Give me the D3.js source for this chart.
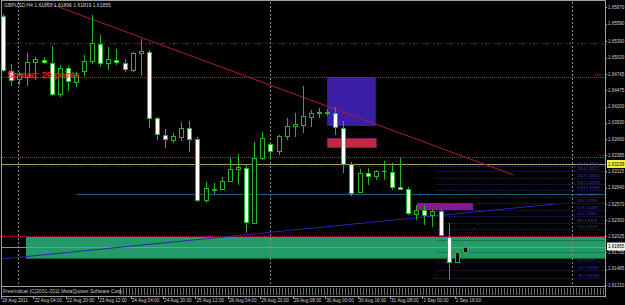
<!DOCTYPE html>
<html>
<head>
<meta charset="utf-8">
<script src="https://cdn.jsdelivr.net/npm/d3@7"></script>
<style>
  body { margin: 0; background: #000; }
  svg { display: block; font-family: 'Liberation Sans', Arial, sans-serif; }
</style>
</head>
<body>
<svg id="chart" width="625" height="305"></svg>
<script>
// GBPUSD H4 bars
const opens  = [1.65719,1.64797,1.64663,1.64697,1.64948,1.64982,1.64931,1.64412,1.64848,1.64613,
                1.64797,1.64965,1.65250,1.64931,1.64982,1.64931,1.64814,1.65099,1.65116,1.64010,
                1.63725,1.63641,1.63691,1.63842,1.63658,1.62635,1.62820,1.62820,1.62954,1.63155,
                1.63172,1.62250,1.63339,1.63574,1.63457,1.63708,1.63876,1.63892,1.64027,1.64094,
                1.64110,1.64094,1.63842,1.63239,1.62770,1.63088,1.63038,1.63121,1.63105,1.62853,
                1.62820,1.62400,1.62468,1.62384,1.62451,1.62013,1.61596,1.61764,1.61863];
const highs  = [1.65753,1.64915,1.64780,1.65099,1.65032,1.65032,1.65216,1.64898,1.64881,1.64780,
                1.65066,1.65736,1.65401,1.65200,1.65166,1.64998,1.65116,1.65334,1.65150,1.64027,
                1.63825,1.63758,1.63943,1.63960,1.63691,1.62937,1.62920,1.63021,1.63339,1.63406,
                1.63222,1.63607,1.63775,1.63591,1.63725,1.64010,1.64094,1.64546,1.64144,1.64177,
                1.64160,1.64194,1.63960,1.63272,1.63155,1.63172,1.63138,1.63289,1.63256,1.63339,
                1.62853,1.62551,1.62551,1.62485,1.62485,1.62251,1.61915,1.61932,1.61896];
const lows   = [1.64780,1.64546,1.64563,1.64546,1.64647,1.64915,1.64378,1.64362,1.64462,1.64529,
                1.64714,1.64915,1.64864,1.64814,1.64898,1.64780,1.64780,1.64714,1.63842,1.63641,
                1.63507,1.63591,1.63624,1.63440,1.62602,1.62585,1.62736,1.62803,1.62937,1.62887,
                1.62082,1.62233,1.63306,1.63306,1.63390,1.63641,1.63691,1.63758,1.63859,1.64010,
                1.64043,1.63725,1.63088,1.62702,1.62753,1.62887,1.62971,1.62971,1.62803,1.62803,
                1.62384,1.62300,1.62217,1.62183,1.62030,1.61295,1.61579,1.61713,1.61819];
const closes = [1.64814,1.64647,1.64747,1.64948,1.64998,1.64948,1.64412,1.64848,1.64630,1.64730,
                1.64965,1.65267,1.64931,1.64998,1.64948,1.64831,1.65099,1.65133,1.64010,1.63741,
                1.63658,1.63708,1.63842,1.63658,1.62635,1.62836,1.62810,1.62954,1.63155,1.63188,
                1.62267,1.63339,1.63674,1.63457,1.63708,1.63876,1.63909,1.64043,1.64094,1.64110,
                1.64094,1.63859,1.63239,1.62753,1.63088,1.63038,1.63121,1.63115,1.62853,1.62820,
                1.62417,1.62468,1.62384,1.62451,1.62047,1.61596,1.61764,1.61848,1.61855];

const timeLabelBars = [0, 4, 8, 12, 16, 20, 24, 28, 32, 36, 40, 44, 48, 52, 56];
const timeLabels = ['19 Aug 2011','22 Aug 04:00','22 Aug 20:00','23 Aug 12:00','24 Aug 04:00',
                    '24 Aug 20:00','25 Aug 12:00','26 Aug 04:00','26 Aug 20:00','29 Aug 08:00',
                    '30 Aug 00:00','30 Aug 16:00','31 Aug 08:00','1 Sep 00:00','1 Sep 16:00'];
const priceLabels = ['1.65870','1.65590','1.65300','1.65020','1.64745','1.64475','1.64200','1.63930',
                     '1.63660','1.63385','1.63115','1.62840','1.62570','1.62300','1.62025','1.61755',
                     '1.61485','1.61210'];

// drawn objects (bar index / price)
const redTrend = [[5.2, 1.65954], [63, 1.63054]];
const blueTrend = [[-0.12, 1.61646], [68.1, 1.62568]];
const separators = [1.85, 32.96, 70.2];
const redDotLevels = [1.64697, 1.63356, 1.62032];
const tanLevel = 1.63239;
const faintLevel = 1.63205;
const tealLevel = { from: 9, price: 1.62736 };
const bidPrice = 1.61855;
const fiboLevels = [1.63205,1.63121,1.63004,1.62903,1.62803,1.62686,1.62585,1.62468,1.62367,
                    1.62250,1.62149,1.61596,1.61462,1.61328];
const fiboNames = ['261.8','200.0','161.8','138.2','123.6','100.0','76.4','61.8','50.0',
                   '38.2','23.6','0.0','-23.6','-38.2'];
const greenZone = { from: 2.84, top: 1.62015, bottom: 1.61663, inner: [1.61965, 1.61855, 1.61764] };
const blueBox = { from: 40, to: 46, top: 1.64697, bottom: 1.63876 };
const redBox = { from: 40, to: 46, top: 1.63674, bottom: 1.63524 };
const purpleBox = { from: 51.1, to: 58, top: 1.62585, bottom: 1.62468 };
const pinkDots = [[53.1, 1.61311], [59, 1.62283]];
const topDotLevel = 1.65267;

const svg = d3.select('#chart');
const W = 625, H = 305;
const pLeft = 2, pRight = 605, pTop = 2, pBottom = 286;

const x = d3.scaleLinear().domain([0, 58]).range([3, 473]);
const y = d3.scaleLinear().domain([1.61210, 1.65870]).range([285, 7]);

svg.append('rect').attr('width', W).attr('height', H).attr('fill', '#000');

const defs = svg.append('defs');
defs.append('clipPath').attr('id', 'plot')
  .append('rect').attr('x', pLeft).attr('y', pTop).attr('width', pRight - pLeft).attr('height', pBottom - pTop);

const plot = svg.append('g').attr('clip-path', 'url(#plot)');

// zones
plot.append('rect')
  .attr('x', x(greenZone.from)).attr('y', y(greenZone.top))
  .attr('width', pRight - x(greenZone.from)).attr('height', y(greenZone.bottom) - y(greenZone.top))
  .attr('fill', '#239b69');
plot.append('line')
  .attr('x1', x(greenZone.from)).attr('x2', pRight)
  .attr('y1', y(greenZone.bottom) + 0.5).attr('y2', y(greenZone.bottom) + 0.5)
  .attr('stroke', '#0e6a2c');
greenZone.inner.forEach(p => {
  plot.append('line')
    .attr('x1', x(53.5)).attr('x2', pRight)
    .attr('y1', Math.round(y(p)) + 0.5).attr('y2', Math.round(y(p)) + 0.5)
    .attr('stroke', '#177a4a');
});

plot.append('rect')
  .attr('x', x(blueBox.from)).attr('y', y(blueBox.top))
  .attr('width', x(blueBox.to) - x(blueBox.from)).attr('height', y(blueBox.bottom) - y(blueBox.top))
  .attr('fill', '#3a1fa6');
plot.append('rect')
  .attr('x', x(redBox.from) + 0.5).attr('y', y(redBox.top) + 0.5)
  .attr('width', x(redBox.to) - x(redBox.from)).attr('height', y(redBox.bottom) - y(redBox.top))
  .attr('fill', '#c42a3c').attr('stroke', '#7a2060');
plot.append('rect')
  .attr('x', x(purpleBox.from)).attr('y', y(purpleBox.top))
  .attr('width', x(purpleBox.to) - x(purpleBox.from)).attr('height', y(purpleBox.bottom) - y(purpleBox.top))
  .attr('fill', '#86189a');

// separators
separators.forEach(i => {
  plot.append('line')
    .attr('x1', Math.round(x(i)) + 0.5).attr('x2', Math.round(x(i)) + 0.5)
    .attr('y1', pTop).attr('y2', pBottom)
    .attr('stroke', '#8c8c8c').attr('stroke-dasharray', '2,2');
});

// horizontal levels
plot.append('line')
  .attr('x1', pLeft).attr('x2', pRight)
  .attr('y1', Math.round(y(topDotLevel)) + 0.5).attr('y2', Math.round(y(topDotLevel)) + 0.5)
  .attr('stroke', '#a0204a').attr('stroke-dasharray', '1,5');
plot.append('line')
  .attr('x1', pLeft + 3).attr('x2', pRight)
  .attr('y1', Math.round(y(topDotLevel)) + 0.5).attr('y2', Math.round(y(topDotLevel)) + 0.5)
  .attr('stroke', '#6a2aa0').attr('stroke-dasharray', '2,10');

redDotLevels.forEach(p => {
  plot.append('line')
    .attr('x1', pLeft).attr('x2', pRight)
    .attr('y1', Math.round(y(p)) + 0.5).attr('y2', Math.round(y(p)) + 0.5)
    .attr('stroke', '#b0203a').attr('stroke-dasharray', '1,1');
});

plot.append('line')
  .attr('x1', pLeft).attr('x2', pRight)
  .attr('y1', Math.round(y(faintLevel)) + 0.5).attr('y2', Math.round(y(faintLevel)) + 0.5)
  .attr('stroke', '#3a3a3a').attr('stroke-dasharray', '1,2');
plot.append('line')
  .attr('x1', pLeft).attr('x2', pRight)
  .attr('y1', Math.round(y(tanLevel)) + 0.5).attr('y2', Math.round(y(tanLevel)) + 0.5)
  .attr('stroke', '#a89a68');

plot.append('line')
  .attr('x1', x(tealLevel.from)).attr('x2', pRight)
  .attr('y1', Math.round(y(tealLevel.price)) + 0.5).attr('y2', Math.round(y(tealLevel.price)) + 0.5)
  .attr('stroke', '#1d5c7c');

fiboLevels.forEach((p, k) => {
  plot.append('line')
    .attr('x1', x(53.5)).attr('x2', pRight)
    .attr('y1', Math.round(y(p)) + 0.5).attr('y2', Math.round(y(p)) + 0.5)
    .attr('stroke', '#33339a').attr('stroke-dasharray', '1,2');
  plot.append('text')
    .attr('x', 577).attr('y', y(p) - 0.5)
    .attr('font-size', '3.5px').attr('fill', '#4646b8')
    .text(fiboNames[k] + ' ' + p.toFixed(5));
});

plot.append('line')
  .attr('x1', pLeft).attr('x2', pRight)
  .attr('y1', Math.round(y(bidPrice)) + 0.5).attr('y2', Math.round(y(bidPrice)) + 0.5)
  .attr('stroke', '#8a8e98');

// trend lines
const line = d3.line().x(d => x(d[0])).y(d => y(d[1]));
plot.append('path').attr('d', line(redTrend))
  .attr('stroke', '#a81c3c').attr('fill', 'none');
plot.append('path').attr('d', line(blueTrend))
  .attr('stroke', '#3220b4').attr('fill', 'none');
plot.append('path').attr('d', line(pinkDots))
  .attr('stroke', '#c8305e').attr('fill', 'none').attr('stroke-dasharray', '1,4');

// candles
const green = '#25b425';
const bars = d3.range(opens.length);
plot.selectAll('line.wick').data(bars).join('line')
  .attr('class', 'wick')
  .attr('x1', i => Math.round(x(i)) + 0.5).attr('x2', i => Math.round(x(i)) + 0.5)
  .attr('y1', i => y(highs[i])).attr('y2', i => y(lows[i]))
  .attr('stroke', green);
plot.selectAll('rect.body').data(bars).join('rect')
  .attr('class', 'body')
  .attr('x', i => Math.round(x(i)) - 1.5)
  .attr('y', i => Math.round(y(Math.max(opens[i], closes[i]))) + 0.5)
  .attr('width', 4)
  .attr('height', i => Math.max(0.01, Math.round(Math.abs(y(opens[i]) - y(closes[i])))))
  .attr('fill', i => closes[i] < opens[i] ? '#ffffff' : '#000000')
  .attr('stroke', green);

// texts on chart
const last = opens.length - 1;
svg.append('text').attr('x', 4).attr('y', 7)
  .attr('font-size', '5px').attr('fill', '#d0d0d0')
  .text(`GBPUSD,H4 ${opens[last].toFixed(5)} ${highs[last].toFixed(5)} ${lows[last].toFixed(5)} ${closes[last].toFixed(5)}`);
svg.append('text').attr('x', 7).attr('y', 78)
  .attr('font-size', '9.5px').attr('fill', '#ff2626')
  .attr('stroke', '#ff2626').attr('stroke-width', 0.25)
  .attr('textLength', 72).attr('lengthAdjust', 'spacingAndGlyphs')
  .text('Spread: 29 points');
svg.append('text').attr('x', 594).attr('y', 76)
  .attr('font-size', '4px').attr('fill', '#c02040').text('100 >');
svg.append('text').attr('x', 597).attr('y', 156)
  .attr('font-size', '4px').attr('fill', '#c02040').text('<< x');

// frame
svg.append('path')
  .attr('d', `M${pLeft - 0.5},297.5 V0.5 H${pRight + 0.5} V297.5`)
  .attr('stroke', '#a0a0a0').attr('fill', 'none');

// sub window strip
defs.append('pattern').attr('id', 'hatch').attr('width', 3).attr('height', 8)
  .attr('patternUnits', 'userSpaceOnUse')
  .append('rect').attr('width', 1).attr('height', 8).attr('fill', '#6c6c6c');
svg.append('line').attr('x1', pLeft).attr('x2', pRight).attr('y1', 286.5).attr('y2', 286.5)
  .attr('stroke', '#a0a0a0');
svg.append('rect').attr('x', 120).attr('y', 288).attr('width', pRight - 120).attr('height', 7)
  .attr('fill', 'url(#hatch)');
svg.append('text').attr('x', 3).attr('y', 293)
  .attr('font-size', '5px').attr('fill', '#c8c8c8')
  .text('FreeIndicat (C)2001-2011 MetaQuotes Software Corp.');
svg.append('line').attr('x1', pLeft).attr('x2', pRight).attr('y1', 296.5).attr('y2', 296.5)
  .attr('stroke', '#a0a0a0');

// time axis
timeLabelBars.forEach((b, k) => {
  svg.append('line').attr('x1', Math.round(x(b)) - 1.5).attr('x2', Math.round(x(b)) - 1.5)
    .attr('y1', 297).attr('y2', 299).attr('stroke', '#a0a0a0');
  svg.append('text').attr('x', x(b) - 1).attr('y', 302)
    .attr('font-size', '4.7px').attr('fill', '#d0d0d0').text(timeLabels[k]);
});

// price axis
priceLabels.forEach(t => {
  const py = y(+t);
  svg.append('line').attr('x1', pRight).attr('x2', pRight + 2)
    .attr('y1', Math.round(py) + 0.5).attr('y2', Math.round(py) + 0.5).attr('stroke', '#a0a0a0');
  svg.append('text').attr('x', 608).attr('y', py + 1.7)
    .attr('font-size', '4.5px').attr('fill', '#d0d0d0').text(t);
});
svg.append('rect').attr('x', 607).attr('y', y(tanLevel) - 4).attr('width', 18).attr('height', 8)
  .attr('fill', '#f4f43a');
svg.append('text').attr('x', 608).attr('y', y(tanLevel) + 1.7)
  .attr('font-size', '4.5px').attr('fill', '#000').text(tanLevel.toFixed(5));
svg.append('rect').attr('x', 607).attr('y', y(bidPrice) - 4).attr('width', 18).attr('height', 8)
  .attr('fill', '#f0f0f0');
svg.append('text').attr('x', 608).attr('y', y(bidPrice) + 1.7)
  .attr('font-size', '4.5px').attr('fill', '#000').text(bidPrice.toFixed(5));
</script>
</body>
</html>
